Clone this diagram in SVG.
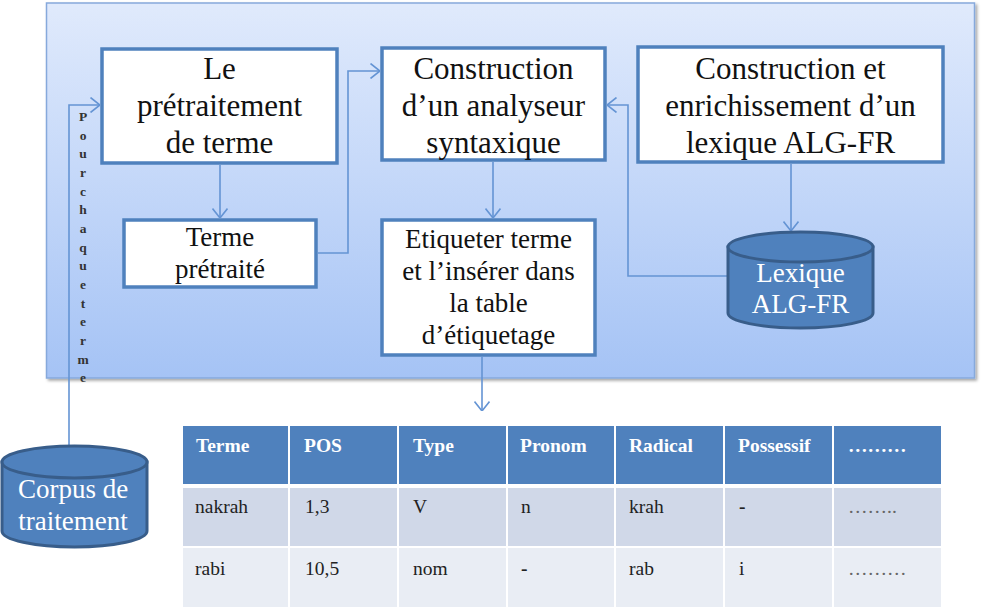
<svg xmlns="http://www.w3.org/2000/svg" width="981" height="613" viewBox="0 0 981 613">
<style>
  .t{font-family:"Liberation Serif","Times New Roman",serif;fill:#111;text-anchor:middle}
  .big{font-size:31px}
  .mid{font-size:27px}
  .w{fill:#fff}
  .box{fill:#fff;stroke:#4f81bd;stroke-width:3.5}
  .cyl{fill:#4f81bd;stroke:#385d8a;stroke-width:3}
  .con{fill:none;stroke:#6494d4;stroke-width:1.6}
  .vt{font-family:"Liberation Serif","Times New Roman",serif;font-size:13.5px;font-weight:bold;fill:#333;text-anchor:middle}
  .th{font-family:"Liberation Serif","Times New Roman",serif;font-size:19.5px;font-weight:bold;fill:#fff}
  .td{font-family:"Liberation Serif","Times New Roman",serif;font-size:19.5px;fill:#222}
  .hd{fill:#4f81bd}
  .r1{fill:#d0d8e8}
  .r2{fill:#e9edf4}
</style>
<defs>
  <linearGradient id="bg" x1="0" y1="0" x2="0" y2="1">
    <stop offset="0" stop-color="#e0eafc"/>
    <stop offset="1" stop-color="#a5c3f5"/>
  </linearGradient>
  <filter id="sh" x="-5%" y="-5%" width="110%" height="110%">
    <feDropShadow dx="2" dy="2" stdDeviation="1.5" flood-color="#000" flood-opacity="0.35"/>
  </filter>
  <marker id="ar" viewBox="0 0 10 16" refX="10" refY="8" markerWidth="10" markerHeight="16" markerUnits="userSpaceOnUse" orient="auto">
    <path d="M0.5,0.5 L10,8 L0.5,15.5" fill="none" stroke="#6494d4" stroke-width="1.6"/>
  </marker>
</defs>

<g id="container">
  <rect x="46.5" y="3" width="928" height="375" fill="url(#bg)" stroke="#86a9dc" stroke-width="1.5" filter="url(#sh)"/>
</g>

<g id="connectors">
  <path class="con" d="M69,446 V105 H100" marker-end="url(#ar)"/>
  <path class="con" d="M220,165 V218" marker-end="url(#ar)"/>
  <path class="con" d="M318,253 H348 V71 H380" marker-end="url(#ar)"/>
  <path class="con" d="M493,162 V218" marker-end="url(#ar)"/>
  <path class="con" d="M791,164 V231" marker-end="url(#ar)"/>
  <path class="con" d="M728,276 H628 V105 H607" marker-end="url(#ar)"/>
  <path class="con" d="M482,357 V411" marker-end="url(#ar)"/>
</g>

<g id="label-pour-chaque-terme">
  <text class="vt" x="83" y="121">P</text>
  <text class="vt" x="83" y="140">o</text>
  <text class="vt" x="83" y="158">u</text>
  <text class="vt" x="83" y="177">r</text>
  <text class="vt" x="83" y="196">c</text>
  <text class="vt" x="83" y="214">h</text>
  <text class="vt" x="83" y="233">a</text>
  <text class="vt" x="83" y="252">q</text>
  <text class="vt" x="83" y="270">u</text>
  <text class="vt" x="83" y="289">e</text>
  <text class="vt" x="83" y="308">t</text>
  <text class="vt" x="83" y="326">e</text>
  <text class="vt" x="83" y="345">r</text>
  <text class="vt" x="83" y="364">m</text>
  <text class="vt" x="83" y="382">e</text>
</g>

<g id="pretraitement">
  <rect class="box" x="102" y="49" width="235" height="114"/>
  <text class="t big" x="219.5" y="79">Le</text>
  <text class="t big" x="219.5" y="116">prétraitement</text>
  <text class="t big" x="219.5" y="153">de terme</text>
</g>

<g id="analyseur">
  <rect class="box" x="382" y="48" width="223" height="112"/>
  <text class="t big" x="493.5" y="79">Construction</text>
  <text class="t big" x="493.5" y="116">d’un analyseur</text>
  <text class="t big" x="493.5" y="153">syntaxique</text>
</g>

<g id="lexique-construction">
  <rect class="box" x="638" y="47" width="305" height="115"/>
  <text class="t big" x="790.5" y="79">Construction et</text>
  <text class="t big" x="790.5" y="116">enrichissement d’un</text>
  <text class="t big" x="790.5" y="153">lexique ALG-FR</text>
</g>

<g id="terme-pretraite">
  <rect class="box" x="124" y="220" width="192" height="67"/>
  <text class="t mid" x="220" y="246">Terme</text>
  <text class="t mid" x="220" y="278">prétraité</text>
</g>

<g id="etiqueter">
  <rect class="box" x="382" y="220" width="213" height="135"/>
  <text class="t mid" x="488.5" y="248">Etiqueter terme</text>
  <text class="t mid" x="488.5" y="280">et l’insérer dans</text>
  <text class="t mid" x="488.5" y="312">la table</text>
  <text class="t mid" x="488.5" y="344">d’étiquetage</text>
</g>

<g id="lexique-db">
  <path class="cyl" d="M728,247 V313 A72.5,15 0 0 0 873,313 V247 Z"/>
  <ellipse class="cyl" cx="800.5" cy="247" rx="72.5" ry="15"/>
  <text class="t mid w" x="800.5" y="282">Lexique</text>
  <text class="t mid w" x="800.5" y="313">ALG-FR</text>
</g>

<g id="corpus-db">
  <path class="cyl" d="M2,462 V531 A72.5,16 0 0 0 147,531 V462 Z"/>
  <ellipse class="cyl" cx="74.5" cy="462" rx="72.5" ry="16"/>
  <text class="t mid w" x="73" y="498">Corpus de</text>
  <text class="t mid w" x="73" y="530">traitement</text>
</g>

<g id="table">
  <rect class="hd" x="183" y="426" width="105" height="58"/>
  <rect class="hd" x="290" y="426" width="107" height="58"/>
  <rect class="hd" x="399" y="426" width="107" height="58"/>
  <rect class="hd" x="508" y="426" width="106" height="58"/>
  <rect class="hd" x="616" y="426" width="107" height="58"/>
  <rect class="hd" x="725" y="426" width="107" height="58"/>
  <rect class="hd" x="834" y="426" width="107" height="58"/>

  <rect class="r1" x="183" y="488" width="105" height="58"/>
  <rect class="r1" x="290" y="488" width="107" height="58"/>
  <rect class="r1" x="399" y="488" width="107" height="58"/>
  <rect class="r1" x="508" y="488" width="106" height="58"/>
  <rect class="r1" x="616" y="488" width="107" height="58"/>
  <rect class="r1" x="725" y="488" width="107" height="58"/>
  <rect class="r1" x="834" y="488" width="107" height="58"/>

  <rect class="r2" x="183" y="548" width="105" height="59"/>
  <rect class="r2" x="290" y="548" width="107" height="59"/>
  <rect class="r2" x="399" y="548" width="107" height="59"/>
  <rect class="r2" x="508" y="548" width="106" height="59"/>
  <rect class="r2" x="616" y="548" width="107" height="59"/>
  <rect class="r2" x="725" y="548" width="107" height="59"/>
  <rect class="r2" x="834" y="548" width="107" height="59"/>

  <text class="th" x="196" y="452">Terme</text>
  <text class="th" x="304" y="452">POS</text>
  <text class="th" x="413" y="452">Type</text>
  <text class="th" x="520" y="452">Pronom</text>
  <text class="th" x="629" y="452">Radical</text>
  <text class="th" x="738" y="452">Possessif</text>
  <text class="th" x="848" y="452">………</text>

  <text class="td" x="195" y="513">nakrah</text>
  <text class="td" x="305" y="513">1,3</text>
  <text class="td" x="413" y="513">V</text>
  <text class="td" x="521" y="513">n</text>
  <text class="td" x="629" y="513">krah</text>
  <text class="td" x="739" y="513" font-weight="bold">-</text>
  <text class="td" x="848" y="513" style="fill:#666">……..</text>

  <text class="td" x="195" y="575">rabi</text>
  <text class="td" x="305" y="575">10,5</text>
  <text class="td" x="413" y="575">nom</text>
  <text class="td" x="521" y="575" font-weight="bold">-</text>
  <text class="td" x="629" y="575">rab</text>
  <text class="td" x="739" y="575">i</text>
  <text class="td" x="848" y="575" style="fill:#666">………</text>
</g>
</svg>
